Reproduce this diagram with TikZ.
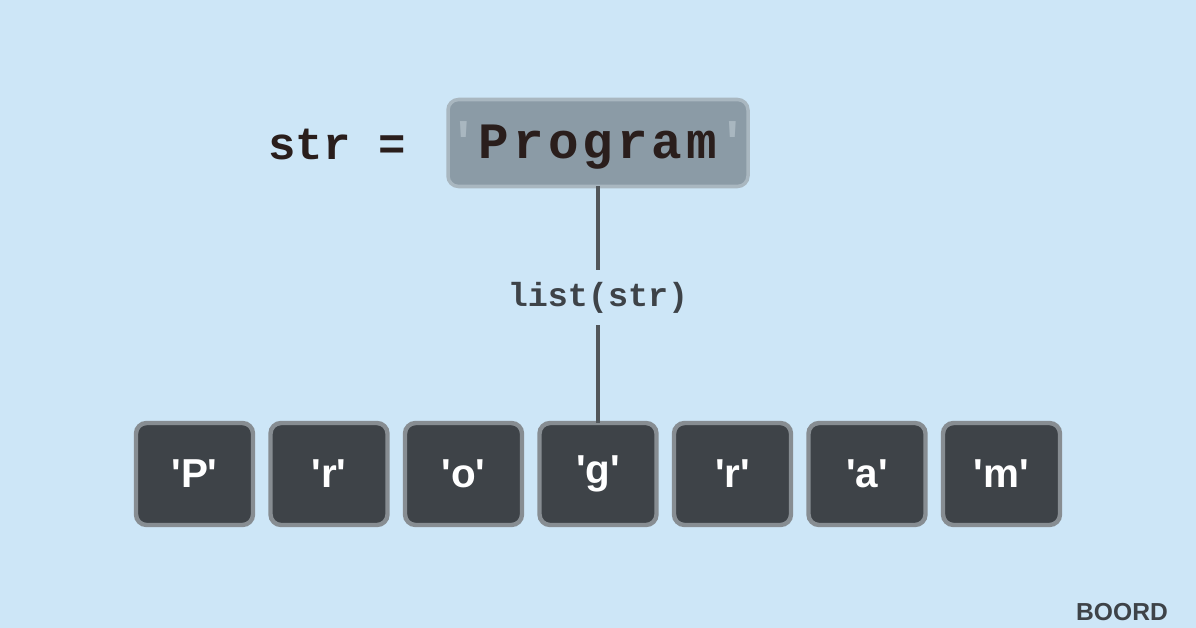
\documentclass[tikz,border=0pt]{standalone}
\usepackage{fontspec}
\setmainfont[Ligatures=NoCommon]{Liberation Sans}
\setmonofont{Liberation Mono}
\definecolor{bgblue}{HTML}{CDE6F7}
\definecolor{strbox}{HTML}{8B9BA6}
\definecolor{strline}{HTML}{A9B7C0}
\definecolor{charbox}{HTML}{3E4348}
\definecolor{charline}{HTML}{878D92}
\definecolor{ink}{HTML}{2A1E1C}
\newcommand{\sq}{\textquotesingle}
\begin{document}
\begin{tikzpicture}[x=0.02cm,y=-0.02cm,inner sep=0pt,outer sep=0pt,
strnode/.style={draw=strline,fill=strbox,line width=2pt,rounded corners=6pt,minimum width=300*0.02cm,minimum height=87*0.02cm},
charnode/.style={draw=charline,fill=charbox,line width=2.5pt,rounded corners=6pt,minimum width=117*0.02cm,minimum height=102*0.02cm,text=white,font=\fontsize{23}{26}\selectfont\bfseries},
link/.style={draw=charbox!90,line width=2pt}]
\fill[bgblue] (0,0) rectangle (1196,628);
\node[font=\ttfamily\bfseries\fontsize{26}{30}\selectfont,text=ink] (lhs) at (337,145) {str =};
\node[strnode] (word) at (598,143) {};
\node[font=\ttfamily\bfseries\fontsize{29}{34}\selectfont\addfontfeature{LetterSpace=8},text=ink] (wtext) at (598,145) {\textcolor{strline}{\sq}Program\textcolor{strline}{\sq}};
\node[font=\ttfamily\bfseries\fontsize{19}{22}\selectfont,text=charbox] (fn) at (598,298) {list(str)};
\coordinate (top) at (598,270);
\coordinate (bot) at (598,325);
\foreach \c [count=\i] in {P,r,o,g,r,a,m}
  \node[charnode] (ch\i) at ({194.5+134.5*(\i-1)},474) {\sq\c\sq};
\draw[link] (word.south) -- (top);
\draw[link] (bot) -- (ch4.north);
\node[font=\bfseries\fontsize{14}{16}\selectfont,text=charbox,anchor=south] (logo) at (1122,621) {BOORD};
\end{tikzpicture}
\end{document}
